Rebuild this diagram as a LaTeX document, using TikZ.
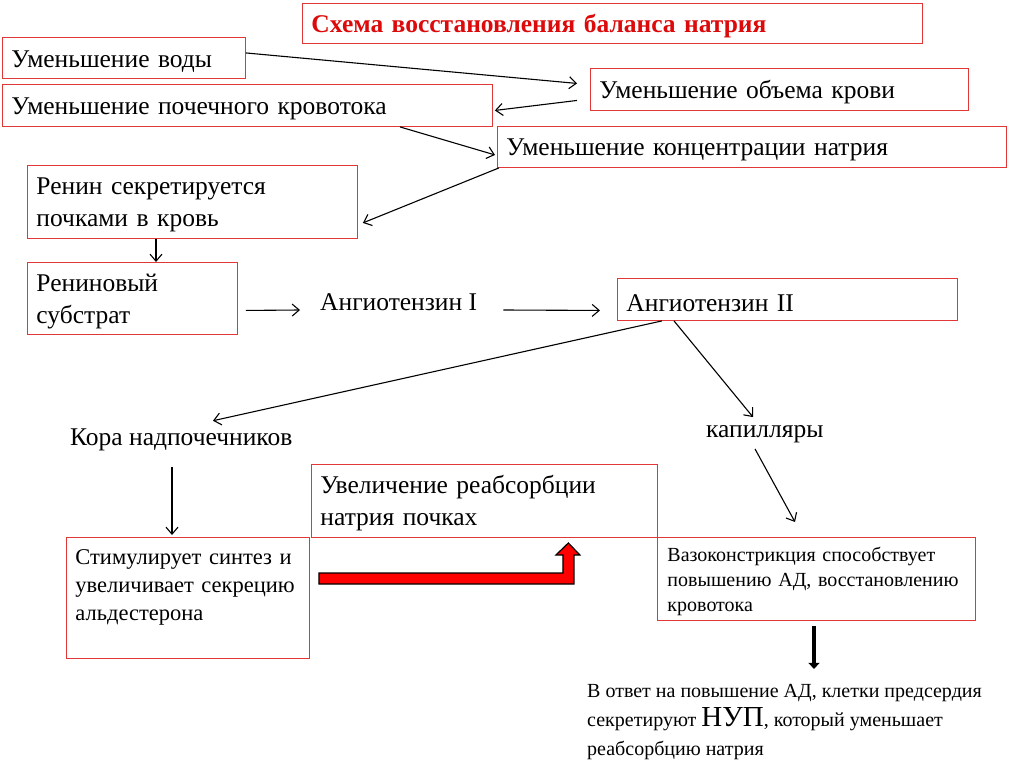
\documentclass[tikz,border=0pt]{standalone}
\usepackage{fontspec}
\setmainfont{Liberation Serif}
\usetikzlibrary{arrows.meta}

\definecolor{boxred}{RGB}{225,55,55}
\definecolor{titlered}{RGB}{220,10,10}

\begin{document}
\begin{tikzpicture}[
        x=1pt, y=-1pt,
        box/.style={
            draw=boxred, line width=0.9pt,
            anchor=north west, align=left,
            inner xsep=9pt, inner ysep=0pt,
            font=\fontsize{25.5}{32}\selectfont,
            execute at begin node={\rule{0pt}{0.92em}}
        },
        lbl/.style={anchor=west, inner sep=4pt, font=\fontsize{25.5}{32}\selectfont},
        arr/.style={-{Straight Barb[length=7pt,width=12pt]}, line width=1.1pt}
    ]
        \useasboundingbox (0,0) rectangle (1024,767);

        \node[box, text width=602, minimum height=40, text=titlered, font=\fontsize{25.5}{30}\bfseries\selectfont] (title) at (302,3) {Схема восстановления баланса натрия};

        \node[box, text width=225, minimum height=41] (water) at (2,37) {Уменьшение воды};
        \node[box, text width=472, minimum height=42] (renalflow) at (2,84) {Уменьшение почечного кровотока};
        \node[box, text width=360, minimum height=42] (blood) at (590,68) {Уменьшение объема крови};
        \node[box, text width=491, minimum height=41] (sodium) at (497,126) {Уменьшение концентрации натрия};
        \node[box, text width=312, minimum height=73] (renin) at (27,165) {Ренин секретируется\\почками в кровь};
        \node[box, text width=192, minimum height=72] (substrate) at (27,262) {Рениновый\\субстрат};
        \node[lbl] (angI) at (316,302) {Ангиотензин I};
        \node[box, text width=322, minimum height=42] (angII) at (617,278) {Ангиотензин II};
        \node[lbl] (cortex) at (66,440) {Кора надпочечников};
        \node[lbl] (capill) at (702,434) {капилляры};
        \node[box, text width=328, minimum height=73] (reabs) at (311,464) {Увеличение реабсорбции\\натрия почках};
        \node[box, text width=225, minimum height=121, font=\fontsize{22.5}{28}\selectfont] (stim) at (66,537) {Стимулирует синтез и\\увеличивает секрецию\\альдестерона\\[3pt]~};
        \node[box, text width=298, minimum height=83, inner xsep=10pt, font=\fontsize{20}{25}\selectfont] (vaso) at (657,537) {Вазоконстрикция способствует\\повышению АД, восстановлению\\кровотока};
        \node[anchor=north west, align=left, inner sep=0pt, font=\fontsize{20}{29}\selectfont] (anp) at (587,684) {В ответ на повышение АД, клетки предсердия\\секретируют {\fontsize{29}{29}\selectfont НУП}, который уменьшает\\реабсорбцию натрия};

        \draw[arr] ([yshift=5pt]water.east) -- ([xshift=-13pt,yshift=6pt]blood.west);
        \draw[arr] ([xshift=-13pt,yshift=-11pt]blood.west) -- ([xshift=2pt,yshift=-5pt]renalflow.east);
        \draw[arr] ([xshift=-93pt]renalflow.south east) -- ([xshift=-2pt,yshift=-8pt]sodium.west);
        \draw[arr] ([xshift=2pt]sodium.south west) -- ([xshift=5pt,yshift=16pt]renin.south east);
        \draw[arr] ([xshift=129pt]renin.south west) -- ([xshift=129pt]substrate.north west);
        \draw[arr] ([xshift=8pt,yshift=-12pt]substrate.east) -- ([xshift=-16pt,yshift=-8pt]angI.west);
        \draw[arr] ([xshift=22pt,yshift=-8pt]angI.east) -- ([xshift=-17pt,yshift=-11pt]angII.west);
        \draw[arr] ([xshift=45pt]angII.south west) -- ([xshift=147pt,yshift=4pt]cortex.north west);
        \draw[arr] ([xshift=57pt]angII.south west) -- ([xshift=51pt,yshift=4pt]capill.north west);
        \draw[arr] ([xshift=106pt,yshift=-12pt]cortex.south west) -- ([xshift=106pt,yshift=2pt]stim.north west);
        \draw[arr] ([xshift=53pt,yshift=-2pt]capill.south west) -- ([xshift=138pt,yshift=15pt]vaso.north west);

        \draw[line width=1.2pt, fill=red, line join=miter]
            ([xshift=9pt,yshift=-36pt]stim.north east) -- ++(244,0) -- ++(0,-18) -- ++(-7,0)
            -- ++(12.5,-12) -- ++(11.5,12) -- ++(-6,0) -- ++(0,29) -- ++(-255,0) -- cycle;

        \draw[line width=4pt, -{Triangle[length=6pt,width=11pt]}] ([xshift=157pt,yshift=-5pt]vaso.south west) -- ([xshift=157pt,yshift=-48pt]vaso.south west);
    \end{tikzpicture}
\end{document}
